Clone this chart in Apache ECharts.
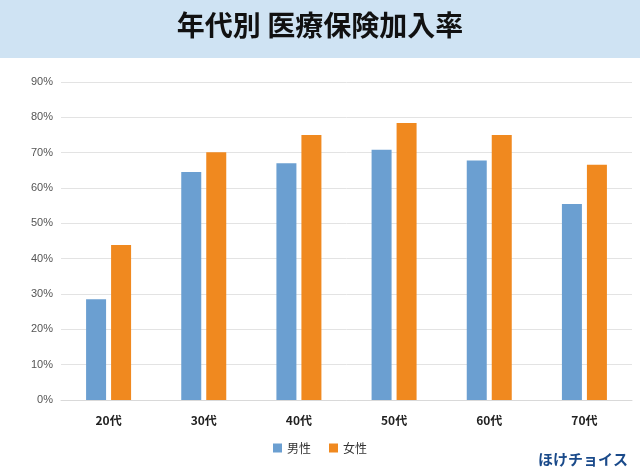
<!DOCTYPE html>
<html><head><meta charset="utf-8">
<script src="https://cdn.jsdelivr.net/npm/echarts@6/dist/echarts.min.js"></script>
<style>html,body{margin:0;padding:0;background:#fff}#c{width:640px;height:475px}</style>
</head><body><div id="c"></div>
<script>
const categories=['20代','30代','40代','50代','60代','70代'];
const male=[28.5,64.5,67,70.8,67.8,55.5];
const female=[43.9,70.1,75,78.4,75,66.6];
const yTicks=[0,10,20,30,40,50,60,70,80,90];
const ch=echarts.init(document.getElementById('c'));
ch.setOption({
 animation:false,
 graphic:[
  {type:'rect',shape:{x:0,y:0,width:640,height:58},style:{fill:'#cfe3f3'}},
  {type:'text',left:'center',top:11,style:{text:'年代別 医療保険加入率',fontSize:28,fontWeight:'bold',fill:'#111',fontFamily:'Noto Sans CJK JP'}},
  {type:'text',right:12,bottom:8,style:{text:'ほけチョイス',fontSize:15,fontWeight:'bold',fill:'#1a4a8a',fontFamily:'Noto Sans CJK JP'}}
 ],
 legend:{bottom:16,left:'center',itemWidth:9,itemHeight:9,icon:'rect',itemGap:18,textStyle:{fontSize:12,color:'#333',fontFamily:'Noto Sans CJK JP'},data:['男性','女性']},
 grid:{left:61,right:8,top:82,bottom:75},
 xAxis:{type:'category',data:categories,axisTick:{show:false},axisLine:{lineStyle:{color:'#d9d9d9'}},axisLabel:{color:'#222',fontSize:12,fontWeight:'bold',margin:14,fontFamily:'Noto Sans CJK JP'}},
 yAxis:{type:'value',min:0,max:90,interval:10,axisLabel:{formatter:'{value}%',color:'#555',fontSize:11},splitLine:{lineStyle:{color:'#e3e3e3'}},axisLine:{show:false}},
 series:[
  {name:'男性',type:'bar',data:male,barWidth:20,barGap:'25%',itemStyle:{color:'#6b9fd1'}},
  {name:'女性',type:'bar',data:female,barWidth:20,itemStyle:{color:'#f0891f'}}
 ]
});
</script></body></html>
